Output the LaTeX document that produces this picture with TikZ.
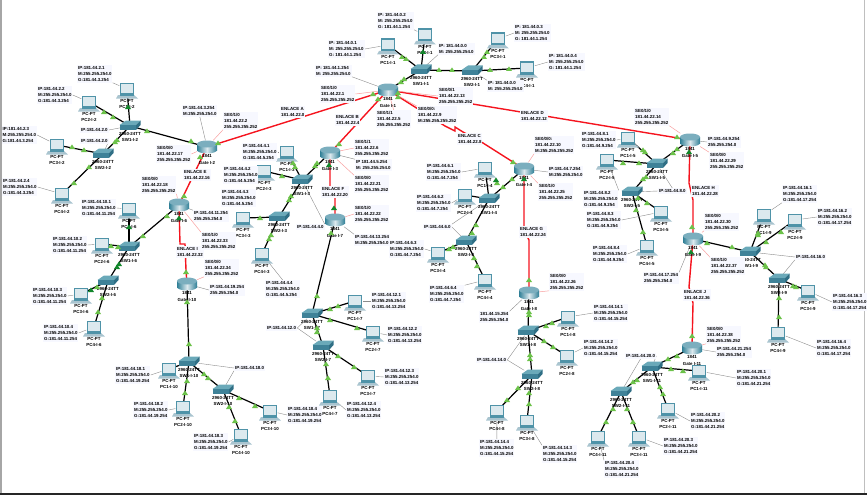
\documentclass[tikz,border=0pt]{standalone}
\usepackage{fontspec}
\setmainfont{Liberation Sans}
\usetikzlibrary{calc}
\pgfdeclarelayer{lk}
\pgfsetlayers{lk,main}
\definecolor{labbg}{HTML}{F7F8FF}
\definecolor{tri}{HTML}{6CC24A}
\definecolor{trid}{HTML}{12872B}
\definecolor{pcfr}{HTML}{4F93A8}
\definecolor{pcsc}{HTML}{DCE9EE}
\definecolor{pcbs}{HTML}{A9C4CF}
\definecolor{rtd}{HTML}{2F7F96}
\definecolor{swt}{HTML}{6AA9B9}
\definecolor{swf}{HTML}{3F8298}
\definecolor{sws}{HTML}{2F6F85}
\definecolor{redl}{HTML}{F5141E}
\definecolor{pinkl}{HTML}{F8A0A0}
\definecolor{leadl}{HTML}{8C8C8C}
\tikzset{
  labsty/.style={fill=labbg,inner sep=1pt,anchor=west,align=left,font=\fontsize{4.4}{6}\selectfont\bfseries},
  dtxt/.style={inner sep=0pt,align=center,font=\fontsize{4.4}{6}\selectfont\bfseries},
  devbox/.style={inner sep=0pt,draw=none},
  blkw/.style={draw=black,line width=1.2pt},
  redw/.style={draw=redl,line width=1.4pt},
  leadw/.style={draw=leadl,line width=0.4pt},
  pinkw/.style={draw=pinkl,line width=0.5pt}
}
\newcommand\devpc[4]{\begin{scope}[shift={(#2,#3)}]
  \fill[pcbs] (-9,6) -- (7,6) -- (11,9.5) -- (-11,9.5) -- cycle;
  \fill[pcfr] (-7.5,-6.5) rectangle (7,6.5);
  \fill[pcsc] (-6,-5) rectangle (5.5,4);
  \node[devbox,minimum width=15pt,minimum height=18pt] (#1) at (0,0) {};
  \node[dtxt] (#1t1) at (0,11.5) {PC-PT};
  \node[dtxt] (#1t2) at (0,17.5) {#4};
\end{scope}}
\newcommand\devrt[4]{\begin{scope}[shift={(#2,#3)}]
  \shade[left color=rtd,right color=rtd,middle color=pcsc] (0,3) ellipse [x radius=10,y radius=3.5];
  \shade[left color=rtd,right color=rtd,middle color=pcsc] (-10,-3) rectangle (10,3);
  \fill[pcfr!75!white] (0,-3) ellipse [x radius=10,y radius=3.5];
  \node[devbox,minimum width=20pt,minimum height=13pt] (#1) at (0,0) {};
  \node[dtxt] (#1t1) at (0,9) {1841};
  \node[dtxt] (#1t2) at (0,15.5) {#4};
\end{scope}}
\newcommand\devsw[4]{\begin{scope}[shift={(#2,#3)}]
  \fill[swt] (-10.5,-1) -- (-4,-5.5) -- (10.5,-5.5) -- (6,-1) -- cycle;
  \fill[swf] (-10.5,-1) rectangle (6,4);
  \fill[sws] (6,-1) -- (10.5,-5.5) -- (10.5,-1) -- (6,4) -- cycle;
  \node[devbox,minimum width=19pt,minimum height=9pt] (#1) at (0,0) {};
  \node[dtxt] (#1t1) at (0,8) {2960-24TT};
  \node[dtxt] (#1t2) at (0,14) {#4};
\end{scope}}
\newcommand\lab[4]{\node[labsty] (#1) at (#2,#3) {#4};}
\newcommand\pcl[5]{\lab{#1}{#2}{#3}{IP:#4\\M:255.255.254.0\\G:#5}}
\newcommand\swl[4]{\lab{#1}{#2}{#3}{IP:#4}}
\newcommand\serl[5]{\lab{#1}{#2}{#3}{#4\\#5\\255.255.255.252}}
\newcommand\wire[2]{\begin{pgfonlayer}{lk}\draw[blkw] (#1.center) -- (#2.center);\end{pgfonlayer}}
\newcommand\redc[3]{\begin{pgfonlayer}{lk}\draw[redw] (#1.center) #2 (#3.center);\end{pgfonlayer}}
\newcommand\lead[2]{\begin{pgfonlayer}{lk}\draw[leadw] (#1) -- (#2);\end{pgfonlayer}}
\newcommand\pink[2]{\begin{pgfonlayer}{lk}\draw[pinkw] (#1) -- (#2);\end{pgfonlayer}}
\newcommand\trg[2]{\fill[tri] (#1,#2) +(0,-2.6) -- +(3,2) -- +(-3,2) -- cycle;}
\newcommand\trgd[2]{\fill[trid] (#1,#2) +(0,-2.6) -- +(3,2) -- +(-3,2) -- cycle;}
\begin{document}
\begin{tikzpicture}[x=1pt,y=-1pt]
\useasboundingbox (0,0) rectangle (867,495);
\fill[black!35] (0,0) rectangle (1.5,495);
\fill[black!25] (864,0) rectangle (864.7,493);
\fill[black!85] (0,493) rectangle (867,495);

% routers
\devrt{R1}{388}{90}{Gate I-1}
\devrt{R2}{207}{147}{Gate I-2}
\devrt{R3}{330}{153}{Gate I-3}
\devrt{R4}{524}{169}{Gate I-4}
\devrt{R5}{690}{140}{Gate I-5}
\devrt{R6}{179}{205}{Gate I-6}
\devrt{R7}{335}{220}{Gate I-7}
\devrt{R8}{529}{293}{Gate I-8}
\devrt{R9}{693}{239}{Gate I-9}
\devrt{R10}{187}{284}{Gate I-10}
\devrt{R11}{692}{348}{Gate I-11}

% cluster 1
\devpc{P1a}{388}{45}{PC1-I-1}\devpc{P1b}{425}{35}{PC2-I-1}\devpc{P1c}{498}{39}{PC3-I-1}\devpc{P1d}{527}{68}{PC4-I-1}
\devsw{S1a}{421}{70}{SW1-I-1}\devsw{S1b}{472}{71}{SW2-I-1}
% cluster 2
\devpc{P2a}{127}{89}{PC1-I-2}\devpc{P2b}{89}{102}{PC2-I-2}\devpc{P2c}{57}{145}{PC3-I-2}\devpc{P2d}{62}{194}{PC4-I-2}
\devsw{S2a}{130}{126}{SW1-I-2}\devsw{S2b}{103}{154}{SW2-I-2}
% cluster 3
\devpc{P3a}{287}{152}{PC1-I-3}\devpc{P3b}{264}{171}{PC2-I-3}\devpc{P3c}{243}{218}{PC3-I-3}\devpc{P3d}{262}{254}{PC4-I-3}
\devsw{S3a}{302}{180}{SW1-I-3}\devsw{S3b}{279}{217}{SW2-I-3}
% cluster 4
\devpc{P4a}{485}{168}{PC1-I-4}\devpc{P4b}{465}{195}{PC2-I-4}\devpc{P4c}{438}{253}{PC3-I-4}\devpc{P4d}{485}{280}{PC4-I-4}
\devsw{S4a}{489}{199}{SW1-I-4}\devsw{S4b}{466}{241}{SW2-I-4}
% cluster 5
\devpc{P5a}{628}{138}{PC1-I-5}\devpc{P5b}{607}{160}{PC2-I-5}\devpc{P5c}{661}{212}{PC3-I-5}\devpc{P5d}{647}{246}{PC4-I-5}
\devsw{S5a}{657}{164}{SW1-I-5}\devsw{S5b}{632}{192}{SW2-I-5}
% cluster 6
\devpc{P6a}{129}{209}{PC1-I-6}\devpc{P6b}{102}{244}{PC2-I-6}\devpc{P6c}{81}{294}{PC3-I-6}\devpc{P6d}{94}{327}{PC4-I-6}
\devsw{S6a}{129}{247}{SW1-I-6}\devsw{S6b}{108}{281}{SW2-I-6}
% cluster 7
\devpc{P7a}{355}{301}{PC1-I-7}\devpc{P7b}{373}{332}{PC2-I-7}\devpc{P7c}{368}{376}{PC3-I-7}\devpc{P7d}{330}{396}{PC4-I-7}
\devsw{S7a}{312}{314}{SW1-I-7}\devsw{S7b}{323}{346}{SW2-I-7}
% cluster 8
\devpc{P8a}{568}{317}{PC1-I-8}\devpc{P8b}{567}{356}{PC2-I-8}\devpc{P8c}{527}{421}{PC3-I-8}\devpc{P8d}{497}{411}{PC4-I-8}
\devsw{S8a}{528}{331}{SW1-I-8}\devsw{S8b}{532}{375}{SW2-I-8}
% cluster 9
\devpc{P9a}{764}{215}{PC1-I-9}\devpc{P9b}{795}{220}{PC2-I-9}\devpc{P9c}{808}{291}{PC3-I-9}\devpc{P9d}{778}{333}{PC4-I-9}
\devsw{S9a}{750}{252}{SW1-I-9}\devsw{S9b}{779}{279}{SW2-I-9}
% cluster 10
\devpc{P10a}{169}{369}{PC1-I-10}\devpc{P10b}{183}{407}{PC2-I-10}\devpc{P10c}{270}{411}{PC3-I-10}\devpc{P10d}{241}{435}{PC4-I-10}
\devsw{S10a}{189}{362}{SW1-I-10}\devsw{S10b}{223}{390}{SW2-I-10}
% cluster 11
\devpc{P11a}{699}{371}{PC1-I-11}\devpc{P11b}{668}{409}{PC2-I-11}\devpc{P11c}{639}{437}{PC3-I-11}\devpc{P11d}{598}{437}{PC4-I-11}
\devsw{S11a}{652}{367}{SW1-I-11}\devsw{S11b}{621}{392}{SW2-I-11}

% black links
\wire{R1}{S1a}\wire{S1a}{P1a}\wire{S1a}{P1b}\wire{S1a}{S1b}\wire{S1b}{P1c}\wire{S1b}{P1d}
\wire{R2}{S2a}\wire{S2a}{P2a}\wire{S2a}{P2b}\wire{S2a}{S2b}\wire{S2b}{P2c}\wire{S2b}{P2d}
\wire{R3}{S3a}\wire{S3a}{P3a}\wire{S3a}{P3b}\wire{S3a}{S3b}\wire{S3b}{P3c}\wire{S3b}{P3d}
\wire{R4}{S4a}\wire{S4a}{P4a}\wire{S4a}{P4b}\wire{S4a}{S4b}\wire{S4b}{P4c}\wire{S4b}{P4d}
\wire{R5}{S5a}\wire{S5a}{P5a}\wire{S5a}{P5b}\wire{S5a}{S5b}\wire{S5b}{P5c}\wire{S5b}{P5d}
\wire{R6}{S6a}\wire{S6a}{P6a}\wire{S6a}{P6b}\wire{S6a}{S6b}\wire{S6b}{P6c}\wire{S6b}{P6d}
\wire{R7}{S7a}\wire{S7a}{P7a}\wire{S7a}{P7b}\wire{S7a}{S7b}\wire{S7b}{P7c}\wire{S7b}{P7d}
\wire{R8}{S8a}\wire{S8a}{P8a}\wire{S8a}{P8b}\wire{S8a}{S8b}\wire{S8b}{P8c}\wire{S8b}{P8d}
\wire{R9}{S9a}\wire{S9a}{P9a}\wire{S9a}{P9b}\wire{S9a}{S9b}\wire{S9b}{P9c}\wire{S9b}{P9d}
\wire{R10}{S10a}\wire{S10a}{P10a}\wire{S10a}{P10b}\wire{S10a}{S10b}\wire{S10b}{P10c}\wire{S10b}{P10d}
\wire{R11}{S11a}\wire{S11a}{P11a}\wire{S11a}{P11b}\wire{S11a}{S11b}\wire{S11b}{P11c}\wire{S11b}{P11d}

% red links
\redc{R2}{--}{R1}
\redc{R1}{--}{R3}
\redc{R1}{-- (445,126) -- (455,131) -- (455,127) -- (463,132) -- (483,143) --}{R4}
\redc{R1}{--}{R5}
\redc{R2}{--}{R6}
\redc{R3}{-- (330,187) -- (335,197) --}{R7}
\redc{R4}{-- (524,230) -- (529,240) --}{R8}
\redc{R5}{-- (689,183) -- (693,200) --}{R9}
\redc{R6}{-- (180,244) -- (185,244) -- (186,270) --}{R10}
\redc{R9}{-- (689,287) -- (693,303) --}{R11}

% link labels
\lab{eA}{280}{112}{ENLACE A\\181.44.22.0}
\lab{eB}{335}{120}{ENLACE B\\181.44.22.4}
\lab{eC}{457}{139}{ENLACE C\\181.44.22.8}
\lab{eD}{520}{116}{ENLACE D\\181.44.22.12}
\lab{eE}{183}{175}{ENLACE E\\181.44.22.16}
\lab{eF}{321}{192}{ENLACE F\\181.44.22.20}
\lab{eG}{519}{232}{ENLACE G\\181.44.22.24}
\lab{eH}{691}{191}{ENLACE H\\181.44.22.28}
\lab{eI}{176}{252}{ENLACE I\\181.44.22.32}
\lab{eJ}{683}{295}{ENLACE J\\181.44.22.36}

% router labels 1
\lab{a1}{315}{71}{IP: 181.44.1.254\\M: 255.255.254.0}\lead{a1.south east}{R1}
\serl{a2}{320}{94}{SE0/1/0}{181.44.22.1}\pink{a2.east}{R1}
\serl{a3}{376}{119}{SE0/1/1}{181.44.22.5}\pink{a3.north}{R1}
\lab{a4}{417}{115}{SE0/0/0:\\181.44.22.9\\M:255.255.255.252}\pink{a4.north west}{R1}
\serl{a5}{438}{96}{SE0/0/1}{181.44.22.13}\pink{a5.west}{R1}
% router labels 2
\lab{b1}{182}{111}{IP:181.44.3.254\\M:255.255.254.0}\lead{b1.south}{R2}
\serl{b2}{223}{121}{SE0/1/0}{181.44.22.2}\pink{b2.south west}{R2}
\serl{b3}{156}{154}{SE0/0/0}{181.44.22.17}\pink{b3.east}{R2}
% router labels 3
\lab{c1}{355}{165}{IP 181.44.5.254\\M: 255.255.254.0}\lead{c1.north west}{R3}
\serl{c2}{354}{148}{SE0/1/1}{181.44.22.6}\pink{c2.west}{R3}
\serl{c3}{354}{184}{SE0/0/0}{181.44.22.21}\pink{c3.north west}{R3}
% router labels 4
\lab{d1}{548}{172}{IP:181.44.7.254\\M:255.255.254.0}\lead{d1.west}{R4}
\lab{d2}{534}{145}{SE0/0/0:\\181.44.22.10\\M:255.255.255.252}\pink{d2.south west}{R4}
\serl{d3}{538}{192}{SE0/1/0}{181.44.22.25}\pink{d3.north west}{R4}
% router labels 5
\lab{e1}{707}{142}{IP:181.44.9.254\\255.255.254.0}\lead{e1.west}{R5}
\serl{e2}{709}{161}{SE0/0/0}{181.44.22.29}\pink{e2.north west}{R5}
\serl{e3}{634}{117}{SE0/1/0}{181.44.22.14}\pink{e3.south east}{R5}
% router labels 6
\serl{f1}{141}{185}{SE0/0/0}{181.44.22.18}\pink{f1.south east}{R6}
\lab{f2}{193}{216}{IP:181.44.11.254\\255.255.254.0}\lead{f2.north west}{R6}
\serl{f3}{201}{241}{SE0/1/0}{181.44.22.33}\pink{f3.north west}{R6}
% router labels 7
\serl{g1}{354}{214}{SE0/1/0}{181.44.22.22}\pink{g1.west}{R7}
\lab{g2}{354}{240}{IP:181.44.13.254\\M:255.255.254.0}\lead{g2.north west}{R7}
% router labels 8
\serl{h1}{549}{282}{SE0/0/0}{181.44.22.26}\pink{h1.south west}{R8}
\lab{h2}{479}{317}{181.44.15.254\\255.255.254.0}\lead{h2.north east}{R8}
% router labels 9
\serl{i1}{704}{222}{SE0/0/0}{181.44.22.30}\pink{i1.south west}{R9}
\serl{i2}{710}{266}{SE0/1/0}{181.44.22.37}\pink{i2.north west}{R9}
\lab{i3}{643}{278}{IP:181.44.17.254\\255.255.254.0}\lead{i3.north east}{R9}
% router labels 10
\serl{j1}{204}{268}{SE0/0/0}{181.44.22.34}\pink{j1.south west}{R10}
\lab{j2}{209}{290}{IP:181.44.19.254\\255.255.254.0}\lead{j2.west}{R10}
% router labels 11
\serl{k1}{706}{335}{SE0/0/0}{181.44.22.38}\pink{k1.south west}{R11}
\lab{k2}{716}{352}{IP:181.44.21.254\\255.255.254.0}\lead{k2.west}{R11}

% host labels 1
\lab{m1a}{328}{49}{IP: 181.44.0.1\\M: 255.255.254.0\\G: 181.44.1.254}\lead{m1a.east}{P1a}
\lab{m1b}{377}{21}{IP: 181.44.0.2\\M: 255.255.254.0\\G: 181.44.1.254}\lead{m1b.south east}{P1b}
\lab{m1c}{514}{33}{IP: 181.44.0.3\\M: 255.255.254.0\\G: 181.44.1.254}\lead{m1c.west}{P1c}
\lab{m1d}{548}{62}{IP: 181.44.0.4\\M: 255.255.254.0\\G: 181.44.1.254}\lead{m1d.west}{P1d}
\lab{m1e}{438}{49}{IP: 181.44.0.0\\M: 255.255.254.0}\lead{m1e.south west}{S1a}
\lab{m1f}{487}{86}{IP: 181.44.0.0\\M: 255.255.254.0}\lead{m1f.north west}{S1b}
% host labels 2
\pcl{m2a}{77}{74}{181.44.2.1}{181.44.3.254}\lead{m2a.south east}{P2a}
\pcl{m2b}{37}{95}{181.44.2.2}{181.44.3.254}\lead{m2b.east}{P2b}
\pcl{m2c}{1.5}{135}{181.44.2.3}{181.44.3.254}\lead{m2c.east}{P2c}
\pcl{m2d}{2}{187}{181.44.2.4}{181.44.3.254}\lead{m2d.east}{P2d}
\swl{m2e}{80}{130}{181.44.2.0}\lead{m2e.east}{S2a}
\swl{m2f}{80}{141}{181.44.2.0}\lead{m2f.east}{S2b}
% host labels 3
\pcl{m3a}{242}{152}{181.44.4.1}{181.44.5.254}\lead{m3a.east}{P3a}
\pcl{m3b}{223}{175}{181.44.4.2}{181.44.5.254}\lead{m3b.east}{P3b}
\pcl{m3c}{221}{198}{181.44.4.3}{181.44.5.254}
\pcl{m3d}{265}{289}{181.44.4.4}{181.44.5.254}\lead{m3d.north}{P3d}
\swl{m3e}{296}{227}{181.44.4.0}\lead{m3e.north east}{S3a}
% host labels 4
\pcl{m4a}{426}{172}{181.44.6.1}{181.44.7.254}\lead{m4a.east}{P4a}
\pcl{m4b}{416}{203}{181.44.6.2}{181.44.7.254}\lead{m4b.east}{P4b}
\pcl{m4c}{389}{249}{181.44.6.3}{181.44.7.254}\lead{m4c.east}{P4c}
\pcl{m4d}{429}{294}{181.44.6.4}{181.44.7.254}\lead{m4d.north east}{P4d}
\swl{m4e}{423}{227}{181.44.6.0}\lead{m4e.north east}{S4a}\lead{m4e.east}{S4b}
% host labels 5
\pcl{m5a}{581}{140}{181.44.8.1}{181.44.9.254}\lead{m5a.east}{P5a}
\pcl{m5b}{583}{199}{181.44.8.2}{181.44.9.254}\lead{m5b.north east}{P5b}
\pcl{m5c}{586}{220}{181.44.8.3}{181.44.9.254}\lead{m5c.east}{P5c}
\pcl{m5d}{592}{254}{181.44.8.4}{181.44.9.254}\lead{m5d.east}{P5d}
\swl{m5e}{658}{191}{181.44.8.0}\lead{m5e.west}{S5b}\lead{m5e.north}{S5a}
% host labels 6
\pcl{m6a}{81}{208}{181.44.10.1}{181.44.11.254}\lead{m6a.east}{P6a}
\pcl{m6b}{52}{245}{181.44.10.2}{181.44.11.254}\lead{m6b.east}{P6b}
\pcl{m6c}{32}{296}{181.44.10.3}{181.44.11.254}\lead{m6c.east}{P6c}
\pcl{m6d}{43}{333}{181.44.10.4}{181.44.11.254}\lead{m6d.east}{P6d}
% host labels 7
\pcl{m7a}{371}{301}{181.44.12.1}{181.44.13.254}\lead{m7a.west}{P7a}
\pcl{m7b}{387}{335}{181.44.12.2}{181.44.13.254}\lead{m7b.west}{P7b}
\pcl{m7c}{384}{377}{181.44.12.3}{181.44.13.254}\lead{m7c.west}{P7c}
\pcl{m7d}{346}{410}{181.44.12.4}{181.44.13.254}\lead{m7d.west}{P7d}
\swl{m7e}{266}{328}{181.44.12.0}\lead{m7e.east}{S7a}\lead{m7e.east}{S7b}
% host labels 8
\pcl{m8a}{593}{313}{181.44.14.1}{181.44.15.254}\lead{m8a.west}{P8a}
\pcl{m8b}{583}{348}{181.44.14.2}{181.44.15.254}\lead{m8b.west}{P8b}
\pcl{m8c}{542}{454}{181.44.14.3}{181.44.15.254}\lead{m8c.north west}{P8c}
\pcl{m8d}{479}{448}{181.44.14.4}{181.44.15.254}\lead{m8d.north}{P8d}
\swl{m8e}{476}{360}{181.44.14.0}\lead{m8e.east}{S8a}\lead{m8e.east}{S8b}
% host labels 9
\pcl{m9a}{782}{194}{181.44.16.1}{181.44.17.254}\lead{m9a.south west}{P9a}
\pcl{m9b}{817}{217}{181.44.16.2}{181.44.17.254}\lead{m9b.west}{P9b}
\pcl{m9c}{832}{302}{181.44.16.3}{181.44.17.254}\lead{m9c.west}{P9c}
\pcl{m9d}{816}{348}{181.44.16.4}{181.44.17.254}\lead{m9d.west}{P9d}
\swl{m9e}{795}{257}{181.44.16.0}\lead{m9e.west}{S9a}\lead{m9e.south west}{S9b}
% host labels 10
\pcl{m10a}{115}{375}{181.44.18.1}{181.44.19.254}\lead{m10a.east}{P10a}
\pcl{m10b}{133}{410}{181.44.18.2}{181.44.19.254}\lead{m10b.east}{P10b}
\pcl{m10c}{287}{415}{181.44.18.4}{181.44.19.254}\lead{m10c.west}{P10c}
\pcl{m10d}{193}{442}{181.44.18.3}{181.44.19.254}\lead{m10d.east}{P10d}
\swl{m10e}{234}{368}{181.44.18.0}\lead{m10e.west}{S10a}\lead{m10e.south west}{S10b}
% host labels 11
\pcl{m11a}{736}{378}{181.44.20.1}{181.44.21.254}\lead{m11a.west}{P11a}
\pcl{m11b}{690}{421}{181.44.20.2}{181.44.21.254}\lead{m11b.west}{P11b}
\pcl{m11c}{663}{446}{181.44.20.3}{181.44.21.254}\lead{m11c.west}{P11c}
\pcl{m11d}{604}{469}{181.44.20.4}{181.44.21.254}\lead{m11d.north west}{P11d}
\swl{m11e}{625}{356}{181.44.20.0}\lead{m11e.east}{S11a}\lead{m11e.south}{S11b}

% link lights: serial
\trg{218}{143}\trg{373}{94}\trg{378}{99}\trg{339}{144}\trg{398}{97}\trg{513}{162}\trg{398}{93}\trg{677}{137}
\trg{200}{157}\trg{184}{196}\trgd{329}{165}\trgd{334}{208}\trgd{524}{179}\trg{529}{280}
\trgd{689}{152}\trg{692}{227}\trgd{179}{218}\trg{186}{272}\trgd{691}{252}\trg{692}{336}
% lights: cluster 1
\trg{401}{82}\trg{404}{79}\trg{402}{57}\trg{406}{59}\trgd{423}{52}\trg{439}{70}\trg{452}{70}\trg{484}{57}\trg{487}{52}\trg{490}{70}\trg{509}{69}
% cluster 2
\trg{191}{141}\trg{147}{131}\trgd{128}{107}\trg{104}{112}\trg{113}{117}\trg{117}{140}\trg{115}{142}\trg{84}{150}\trg{72}{147}\trg{89}{167}\trg{74}{183}
% cluster 3
\trg{317}{163}\trg{315}{166}\trg{295}{167}\trg{293}{163}\trg{282}{176}\trg{291}{196}\trg{289}{200}\trg{260}{218}\trg{271}{235}\trg{269}{239}
% cluster 4
\trg{512}{179}\trg{503}{187}\trg{497}{183}\trgd{496}{180}\trg{476}{225}\trg{472}{233}\trg{453}{247}\trg{449}{249}\trg{474}{258}\trg{477}{266}
% cluster 5
\trg{677}{149}\trg{673}{153}\trg{643}{150}\trg{645}{152}\trg{623}{163}\trg{639}{163}\trg{646}{177}\trg{643}{179}\trg{638}{198}\trg{647}{203}\trg{636}{210}\trg{643}{232}
% cluster 6
\trg{167}{216}\trg{143}{236}\trgd{129}{227}\trg{111}{246}\trg{118}{247}\trgd{119}{264}\trgd{117}{267}\trg{97}{287}\trgd{91}{290}\trg{102}{298}\trg{98}{312}
% cluster 7
\trg{331}{233}\trg{317}{296}\trg{330}{309}\trg{338}{306}\trg{330}{320}\trg{357}{328}\trg{317}{328}\trg{317}{332}\trg{338}{356}\trg{354}{367}\trg{326}{364}\trg{328}{378}
% cluster 8
\trg{529}{312}\trg{529}{315}\trg{546}{326}\trg{552}{323}\trg{544}{341}\trg{553}{347}\trg{530}{355}\trg{530}{359}\trg{529}{393}\trg{529}{404}\trg{518}{388}\trg{507}{400}
% cluster 9
\trg{707}{243}\trg{732}{247}\trg{758}{233}\trg{758}{235}\trg{781}{232}\trg{766}{242}\trg{765}{265}\trg{766}{267}\trg{793}{286}\trg{796}{287}\trg{779}{298}\trg{779}{317}
% cluster 10
\trg{187}{302}\trg{189}{344}\trg{187}{381}\trg{185}{393}\trg{204}{374}\trg{208}{378}\trg{239}{398}\trg{255}{406}\trg{229}{407}\trg{235}{421}
% cluster 11
\trg{677}{356}\trg{668}{359}\trg{671}{369}\trg{683}{371}\trg{637}{380}\trg{633}{382}\trg{660}{387}\trg{663}{394}\trg{627}{409}\trg{633}{422}\trg{613}{409}\trg{606}{422}
\end{tikzpicture}
\end{document}
